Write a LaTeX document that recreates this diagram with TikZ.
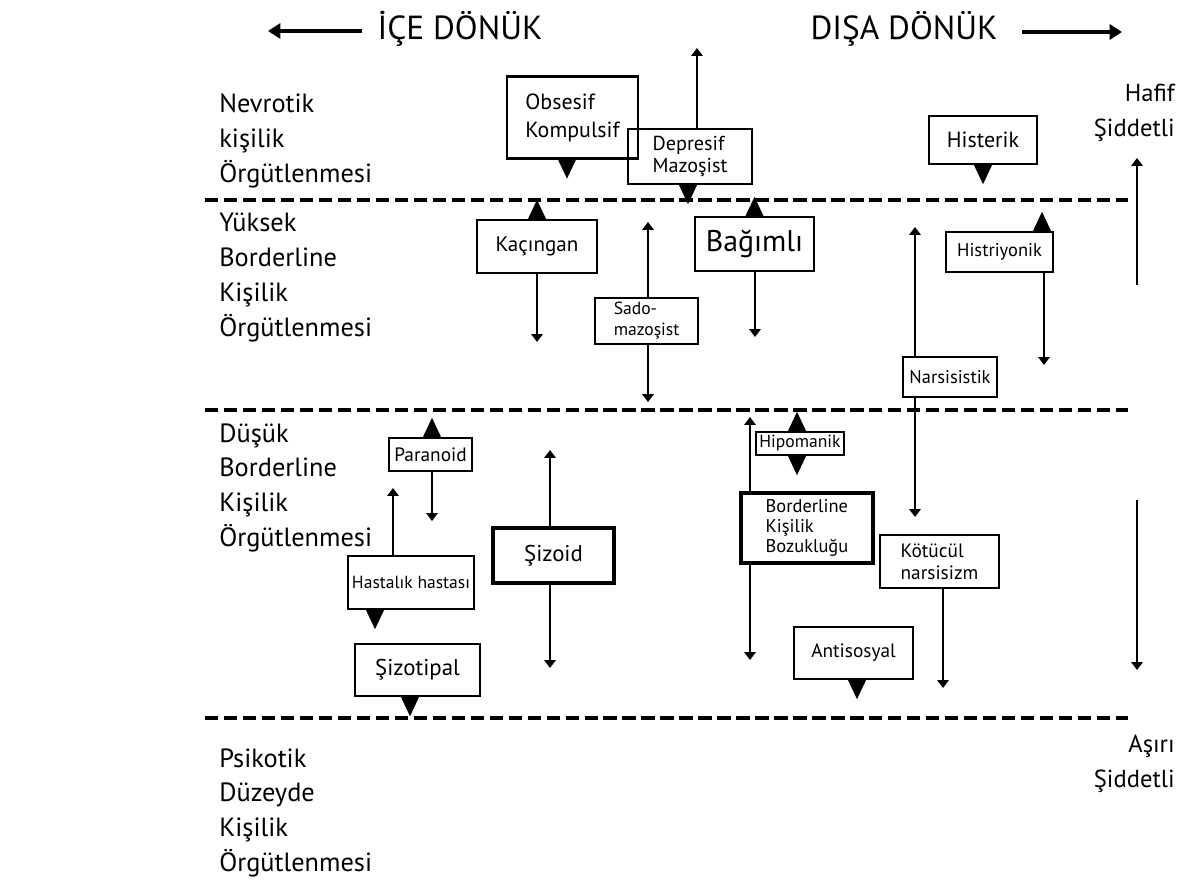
\documentclass[tikz,border=0pt]{standalone}
\usepackage{fontspec}
\setmainfont{PT Sans}
\usetikzlibrary{arrows.meta,calc}
\begin{document}
\begin{tikzpicture}[x=0.02cm,y=-0.02cm,
  box/.style={draw,line width=1.3pt,inner sep=0pt,align=left},
  thickbox/.style={box,line width=2.8pt},
  sz/.style 2 args={minimum width=#1*0.02cm,minimum height=#2*0.02cm},
  fs/.style 2 args={font=\fontsize{#1}{#2}\selectfont},
  arr/.style={line width=1pt,-{Triangle[length=4.5pt,width=6.5pt]}},
  harr/.style={line width=2.8pt,-{Triangle[length=7pt,width=8.5pt]}},
  sep/.style={line width=2.1pt,dash pattern=on 7.6pt off 3.2pt},
  lvl/.style={anchor=north west,inner sep=0pt,align=left,fs={15}{19.9}},
  sev/.style={anchor=north east,inner sep=0pt,align=right,fs={14}{19.9}},
  head/.style={inner sep=0pt,fs={19}{22}},
  tdn/.pic={\fill (-9,0) -- (9,0) -- (0,19) -- cycle;},
  tup/.pic={\fill (-9,0) -- (9,0) -- (0,-19) -- cycle;}
]
\useasboundingbox (0,0) rectangle (1189,886);

% header
\node[head] (ice) at (460,29) {İÇE DÖNÜK};
\node[head] (disa) at (904,29) {DIŞA DÖNÜK};
\coordinate (la1) at (362,31); \coordinate (la2) at (268,31);
\coordinate (ra1) at (1022,32); \coordinate (ra2) at (1122,32);
\draw[harr] (la1) -- (la2);
\draw[harr] (ra1) -- (ra2);

% separators
\coordinate (s1a) at (205,200); \coordinate (s1b) at (1128,200);
\coordinate (s2a) at (205,410); \coordinate (s2b) at (1128,410);
\coordinate (s3a) at (205,718); \coordinate (s3b) at (1128,718);
\draw[sep] (s1a) -- (s1b);
\draw[sep] (s2a) -- (s2b);
\draw[sep] (s3a) -- (s3b);

% level labels
\node[lvl] (l1) at (219,93) {Nevrotik\\kişilik\\Örgütlenmesi};
\node[lvl] (l2) at (219,213) {Yüksek\\Borderline\\Kişilik\\Örgütlenmesi};
\node[lvl] (l3) at (219,423) {Düşük\\Borderline\\Kişilik\\Örgütlenmesi};
\node[lvl] (l4) at (219,748) {Psikotik\\Düzeyde\\Kişilik\\Örgütlenmesi};

% severity labels
\node[sev] (hafif) at (1175,84) {Hafif\\Şiddetli};
\node[sev] (asiri) at (1175,735) {Aşırı\\Şiddetli};
\coordinate (up1) at (1137,285); \coordinate (up2) at (1137,158);
\coordinate (dn1) at (1137,500); \coordinate (dn2) at (1137,670);
\draw[arr] (up1) -- (up2);
\draw[arr] (dn1) -- (dn2);

% neurotic level
\node[box,sz={131}{82},fs={12.5}{16}] (obs) at (572.5,117.5) {Obsesif\\Kompulsif};
\node[box,sz={124}{55},fs={11.5}{12.5}] (dep) at (690,156.5) {Depresif\\Mazoşist};
\node[box,sz={108}{48},fs={12.5}{15}] (his) at (983,140) {Histerik};
\pic at ($(obs.south)+(-5.5,0)$) {tdn};
\pic at ($(dep.south)+(-2,0)$) {tdn};
\pic at (his.south) {tdn};
\coordinate (depUp) at (697,48);
\draw[arr] (dep.north -| depUp) -- (depUp);

% high borderline
\node[box,sz={120}{53},fs={12}{15}] (kac) at (537,246.5) {Kaçıngan};
\node[box,sz={119}{54},fs={17}{19}] (bag) at (754.5,244) {Bağımlı};
\node[box,sz={103}{46},fs={10}{12}] (sado) at (646.5,321) {Sado-\\mazoşist};
\node[box,sz={107}{40},fs={10.5}{13}] (histr) at (999.5,252) {Histriyonik};
\node[box,sz={94}{40},fs={10.5}{13}] (nar) at (950,377) {Narsisistik};
\pic at (kac.north) {tup};
\pic at (bag.north) {tup};
\coordinate (histrT) at (1042,0);
\pic at (histr.north -| histrT) {tup};
\coordinate (kacDn) at (537,342);
\coordinate (bagDn) at (755,337);
\coordinate (sadoUp) at (648,222);
\coordinate (sadoDn) at (648,402);
\coordinate (histrDn) at (1044,365);
\coordinate (narUp) at (915,227);
\coordinate (narDn) at (915,517);
\draw[arr] (kac.south) -- (kacDn);
\draw[arr] (bag.south -| bagDn) -- (bagDn);
\draw[arr] (sado.north -| sadoUp) -- (sadoUp);
\draw[arr] (sado.south -| sadoDn) -- (sadoDn);
\draw[arr] (histr.south -| histrDn) -- (histrDn);
\draw[arr] (nar.north -| narUp) -- (narUp);
\draw[arr] (nar.south -| narDn) -- (narDn);

% low borderline
\node[box,sz={83}{33},fs={11}{13}] (par) at (430.5,454.5) {Paranoid};
\node[box,sz={126}{53},fs={10}{12}] (hast) at (411,582.5) {Hastalık hastası};
\node[thickbox,sz={121}{55},fs={13}{15}] (siz) at (553.5,555.5) {Şizoid};
\node[box,sz={125}{52},fs={13}{15}] (sizt) at (417.5,670) {Şizotipal};
\node[box,sz={88}{23},fs={10}{13}] (hipo) at (800,443.5) {Hipomanik};
\node[thickbox,sz={132}{70},fs={10.5}{11.4}] (bkb) at (807,528) {Borderline\\Kişilik\\Bozukluğu};
\node[box,sz={119}{53},fs={11}{12.5}] (kot) at (939.5,561.5) {Kötücül\\narsisizm};
\node[box,sz={119}{52},fs={11}{13}] (anti) at (853.5,653) {Antisosyal};
\coordinate (parT) at (432,0);
\pic at (par.north -| parT) {tup};
\coordinate (hastT) at (375,0);
\pic at (hast.south -| hastT) {tdn};
\coordinate (siztT) at (410,0);
\pic at (sizt.south -| siztT) {tdn};
\coordinate (hipoT) at (797,0);
\pic at (hipo.north -| hipoT) {tup};
\pic at (hipo.south -| hipoT) {tdn};
\coordinate (antiT) at (857,0);
\pic at (anti.south -| antiT) {tdn};
\coordinate (parDn) at (432,521);
\coordinate (hastUp) at (393,488);
\coordinate (sizUp) at (550,450);
\coordinate (sizDn) at (550,668);
\coordinate (bkbUp) at (750,417);
\coordinate (bkbDn) at (750,660);
\coordinate (kotDn) at (943,688);
\draw[arr] (par.south -| parDn) -- (parDn);
\draw[arr] (hast.north -| hastUp) -- (hastUp);
\draw[arr] (siz.north -| sizUp) -- (sizUp);
\draw[arr] (siz.south -| sizDn) -- (sizDn);
\draw[arr] (bkb.north -| bkbUp) -- (bkbUp);
\draw[arr] (bkb.south -| bkbDn) -- (bkbDn);
\draw[arr] (kot.south -| kotDn) -- (kotDn);
\end{tikzpicture}
\end{document}
